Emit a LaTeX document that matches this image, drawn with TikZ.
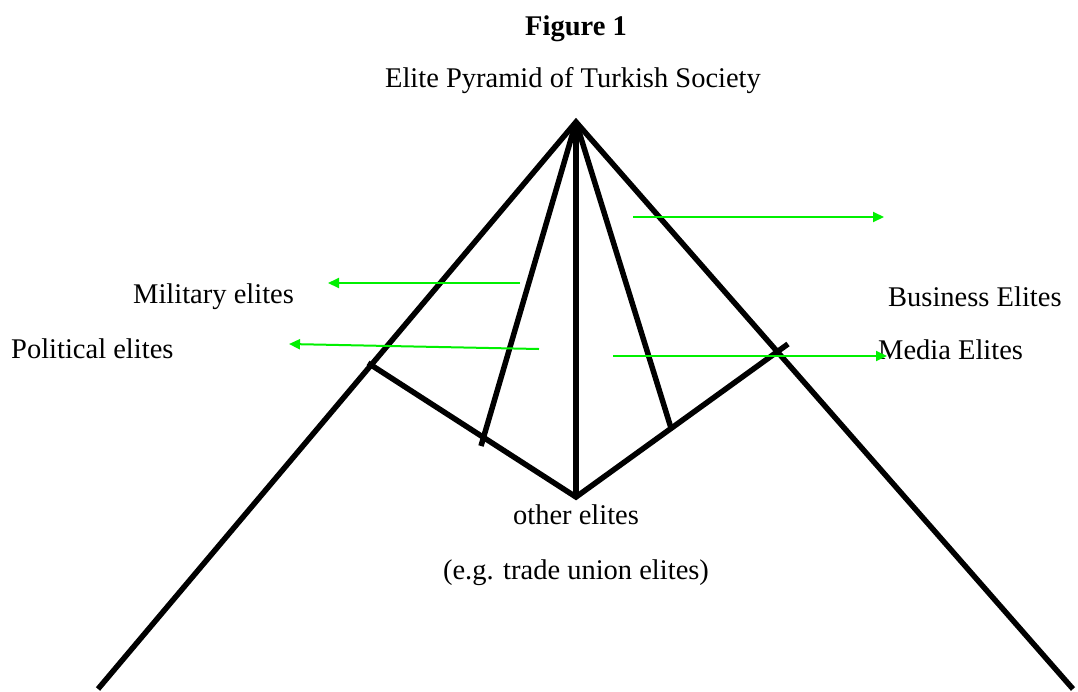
\documentclass[tikz,border=0pt]{standalone}
\usepackage{fontspec}
\setmainfont{Liberation Serif}
\usetikzlibrary{arrows.meta, positioning}
\definecolor{ArrGreen}{RGB}{0,240,0}

\begin{document}
\begin{tikzpicture}[x=1pt, y=-1pt]

\tikzset{
edge/.style={draw, line width=5.5pt, line cap=butt},
pointer/.style={draw=ArrGreen, line width=2pt, -{Triangle[length=11pt, width=10pt]}},
label/.style={font=\fontsize{28.5}{32}\selectfont, inner sep=0pt, anchor=base west}
}

\useasboundingbox (0,0) rectangle (1078,691);

% titles
\node[font=\fontsize{28.5}{32}\bfseries\selectfont, inner sep=0pt, anchor=base] (fig) at (576,35) {Figure 1};
\node[label, anchor=base] (title) at (573,87) {Elite Pyramid of Turkish Society};

% pyramid points
\coordinate (apex) at (576,122);
\coordinate (baseL) at (98,689);
\coordinate (baseR) at (1073,689);
\coordinate (vL) at (368,363);
\coordinate (vR) at (788,344);
\coordinate (vB) at (576,497);
\coordinate (inL) at (481,446);
\coordinate (inR) at (671,428);

\draw[edge] (baseL) -- (apex) -- (baseR);
\draw[edge, line join=miter] (vL) -- (vB) -- (vR);
\draw[edge] (apex) -- (inL);
\draw[edge] (apex) -- (vB);
\draw[edge] (apex) -- (inR);

% labels
\node[label] (mil) at (133,303) {Military elites};
\node[label] (pol) at (11,358) {Political elites};
\node[label] (bus) at (888,306) {Business Elites};
\node[label] (med) at (878,359) {Media Elites};
\node[label, anchor=base] (oth) at (576,524) {other elites};
\node[label, anchor=base] (trade) at (576,579) {(e.g. trade union elites)};

% green arrows
\coordinate (busS) at (633,217);
\coordinate (busE) at (884,217);
\coordinate (milS) at (520,283);
\coordinate (milE) at (328,283);
\coordinate (polS) at (539,349);
\coordinate (polE) at (289,344);
\coordinate (medS) at (613,356);
\coordinate (medE) at (887,356);

\draw[pointer] (busS) -- (busE);
\draw[pointer] (milS) -- (milE);
\draw[pointer] (polS) -- (polE);
\draw[pointer] (medS) -- (medE);

\end{tikzpicture}
\end{document}
